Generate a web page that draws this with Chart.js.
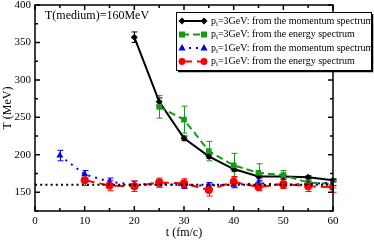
<!DOCTYPE html>
<html><head><meta charset="utf-8">
<script src="https://cdn.jsdelivr.net/npm/chart.js@4.4.0/dist/chart.umd.min.js"></script>
<style>html,body{margin:0;padding:0;background:#fff}#c{display:block}</style>
</head><body>
<canvas id="c" width="374" height="240"></canvas>
<script>
const blackT = [20,25,30,35,40,45,50,55,60];
const blackY = [357,271,222,198,181,171,171,170,166];
const blackErr = [7,5,3,3,3,2,2,2,2];
const greenT = [25,30,35,40,45,50,55,60];
const greenY = [264,247,205,186,176,173,163,161];
const greenErr = [15,18,13,16,12,6,5,5];
const blueT = [5,10,15,20,25,30,35,40,45,50,55,60];
const blueY = [199,174,164,160,162,159,159,160,162,160,161,163];
const blueErr = [7,5,5,5,5,4,4,4,4,4,4,4];
const redT = [10,15,20,25,30,35,40,45,50,55,60];
const redY = [166,159,158,163,162,153,164,157,161,158,157];
const redErr = [7,7,7,6,6,8,7,5,6,7,7];
const refT = [0,60];
const refY = [160,160];
const xTicks = [0,10,20,30,40,50,60];
const yTicks = [150,200,250,300,350,400];
const legendLabels = [
  ['p','i','=3GeV: from the momentum spectrum'],
  ['p','i','=3GeV: from the energy spectrum'],
  ['p','i','=1GeV: from the momentum spectrum'],
  ['p','i','=1GeV: from the energy spectrum']
];
const FONT = '"Liberation Serif", "DejaVu Serif", serif';
const GREEN = '#159a15', BLUE = '#0000ff', RED = '#ff0000', BLACK = '#000000';

function pts(t, y){ return t.map((v,i)=>({x:v,y:y[i]})); }

const series = [
  {t:blackT,y:blackY,e:blackErr,color:BLACK,style:'rectRot',r:3.5,dash:[],w:2},
  {t:greenT,y:greenY,e:greenErr,color:GREEN,style:'rect',r:4,dash:[7,4],w:2},
  {t:blueT,y:blueY,e:blueErr,color:BLUE,style:'triangle',r:4,dash:[2,5],w:2},
  {t:redT,y:redY,e:redErr,color:RED,style:'circle',r:4,dash:[10,5],w:2}
];

const datasets = series.map((s,i)=>({
  label: legendLabels[i].join(''),
  data: pts(s.t,s.y),
  borderColor:s.color, backgroundColor:s.color,
  borderWidth:s.w, borderDash:s.dash,
  pointStyle:s.style, pointRadius:s.r, pointBorderWidth:0,
  pointBackgroundColor:s.color, showLine:true, tension:0,
  order: 4-i
}));
datasets.push({label:'ref', data:pts(refT,refY), borderColor:'#000', borderWidth:2,
  borderDash:[2,3.2], pointRadius:0, showLine:true, order:0});

const errPlugin = {
  id:'err',
  beforeDatasetsDraw(chart){
    const ctx=chart.ctx, xs=chart.scales.x, ys=chart.scales.y;
    ctx.save();
    series.forEach(s=>{
      ctx.strokeStyle=s.color; ctx.lineWidth=1; ctx.setLineDash([]);
      s.t.forEach((t,i)=>{
        const px=Math.round(xs.getPixelForValue(t))+0.5;
        const y1=ys.getPixelForValue(s.y[i]+s.e[i]);
        const y2=ys.getPixelForValue(s.y[i]-s.e[i]);
        ctx.beginPath();
        ctx.moveTo(px,y1);ctx.lineTo(px,y2);
        ctx.moveTo(px-3,y1);ctx.lineTo(px+3,y1);
        ctx.moveTo(px-3,y2);ctx.lineTo(px+3,y2);
        ctx.stroke();
      });
    });
    ctx.restore();
  }
};

function drawMarker(ctx, style, x, y, r, color){
  ctx.fillStyle=color; ctx.beginPath();
  if(style==='rectRot'){ctx.moveTo(x,y-r);ctx.lineTo(x+r,y);ctx.lineTo(x,y+r);ctx.lineTo(x-r,y);ctx.closePath();}
  else if(style==='rect'){ctx.rect(x-r*0.75,y-r*0.75,r*1.5,r*1.5);}
  else if(style==='triangle'){ctx.moveTo(x,y-r);ctx.lineTo(x+r*0.9,y+r*0.6);ctx.lineTo(x-r*0.9,y+r*0.6);ctx.closePath();}
  else {ctx.arc(x,y,r*0.85,0,Math.PI*2);}
  ctx.fill();
}

const framePlugin = {
  id:'frame',
  afterDraw(chart){
    const ctx=chart.ctx, a=chart.chartArea, xs=chart.scales.x, ys=chart.scales.y;
    ctx.save();
    ctx.strokeStyle='#000'; ctx.lineWidth=1.5; ctx.setLineDash([]);
    ctx.strokeRect(a.left,a.top,a.right-a.left,a.bottom-a.top);
    ctx.lineWidth=1.5;
    ctx.beginPath();
    for(let v=0; v<=60; v+=5){
      const px=xs.getPixelForValue(v); const L=(v%10===0)?5:3;
      ctx.moveTo(px,a.bottom);ctx.lineTo(px,a.bottom-L);
      ctx.moveTo(px,a.top);ctx.lineTo(px,a.top+L);
    }
    for(let v=125; v<=400; v+=25){
      const py=ys.getPixelForValue(v); const L=(v%50===0)?5:3;
      ctx.moveTo(a.left,py);ctx.lineTo(a.left+L,py);
      ctx.moveTo(a.right,py);ctx.lineTo(a.right-L,py);
    }
    ctx.stroke();
    // texts
    ctx.fillStyle='#000';
    ctx.font='12px '+FONT; ctx.textBaseline='middle'; ctx.textAlign='left';
    ctx.fillText('T(medium)=160MeV', 45, 16);
    ctx.textAlign='center';
    ctx.fillText('t (fm/c)', (a.left+a.right)/2, 233);
    ctx.save(); ctx.translate(8,(a.top+a.bottom)/2); ctx.rotate(-Math.PI/2);
    ctx.fillText('T (MeV)',0,0); ctx.restore();
    // legend
    const bx=176, by=12, bw=195, bh=58;
    ctx.fillStyle='#fff'; ctx.fillRect(bx,by,bw,bh);
    ctx.strokeStyle='#000'; ctx.lineWidth=1;
    ctx.strokeRect(bx+0.5,by+0.5,bw,bh);
    ctx.lineWidth=1.5;
    ctx.beginPath(); ctx.moveTo(bx+bw+1.5,by+2); ctx.lineTo(bx+bw+1.5,by+bh+1.5); ctx.lineTo(bx+2,by+bh+1.5); ctx.stroke();
    const rows=[21,34.5,48,61.5];
    series.forEach((s,i)=>{
      const y=rows[i];
      ctx.strokeStyle=s.color; ctx.lineWidth=2; ctx.setLineDash(s.dash);
      ctx.beginPath(); ctx.moveTo(182,y); ctx.lineTo(204,y); ctx.stroke();
      ctx.setLineDash([]);
      drawMarker(ctx,s.style,182,y,s.r,s.color);
      drawMarker(ctx,s.style,204,y,s.r,s.color);
      ctx.fillStyle='#000'; ctx.textAlign='left'; ctx.textBaseline='middle';
      const lab=legendLabels[i];
      ctx.font='10px '+FONT;
      let x=211;
      ctx.fillText(lab[0],x,y); x+=ctx.measureText(lab[0]).width;
      ctx.font='7px '+FONT;
      ctx.fillText(lab[1],x,y+3); x+=ctx.measureText(lab[1]).width;
      ctx.font='10px '+FONT;
      ctx.fillText(lab[2],x,y);
    });
    ctx.restore();
  }
};

new Chart(document.getElementById('c'), {
  type:'scatter',
  data:{datasets},
  options:{
    responsive:false, animation:false,
    layout:{padding:{left:0,top:5,right:41,bottom:0}},
    plugins:{legend:{display:false}, tooltip:{enabled:false}},
    scales:{
      x:{type:'linear', min:0, max:60,
        afterBuildTicks(s){ s.ticks = xTicks.map(v=>({value:v})); },
        afterFit(s){ s.height=29; s.paddingLeft=0; s.paddingRight=0; },
        grid:{display:false, drawTicks:false}, border:{display:false},
        ticks:{font:{family:FONT,size:11}, color:'#000', padding:4, maxRotation:0}},
      y:{type:'linear', min:125, max:400,
        afterBuildTicks(s){ s.ticks = yTicks.map(v=>({value:v})); },
        afterFit(s){ s.width=35; s.paddingTop=0; s.paddingBottom=0; },
        grid:{display:false, drawTicks:false}, border:{display:false},
        ticks:{font:{family:FONT,size:11}, color:'#000', padding:4}}
    }
  },
  plugins:[errPlugin, framePlugin]
});
</script>
</body></html>
